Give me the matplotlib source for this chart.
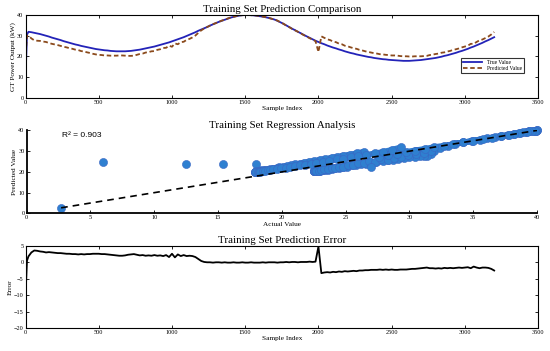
import numpy as np
import matplotlib
matplotlib.use("Agg")
import matplotlib.pyplot as plt

# --- datos ---
sample_idx = [0, 1, 2, 3, 4, 10] + list(range(20, 3201, 20))

true_vals = [
    2.7, 6.0, 12.5, 15.4, 18.0, 30.5,
    31.9, 31.7, 31.4, 31.1, 30.8, 30.4, 30.0, 29.6, 29.1, 28.7,
    28.3, 27.9, 27.4, 27.0, 26.6, 26.2, 25.8, 25.5, 25.1, 24.8,
    24.5, 24.2, 23.9, 23.6, 23.4, 23.2, 23.0, 22.9, 22.7, 22.6,
    22.5, 22.5, 22.5, 22.5, 22.6, 22.7, 22.9, 23.1, 23.3, 23.6,
    23.9, 24.2, 24.5, 24.8, 25.2, 25.6, 26.0, 26.4, 26.8, 27.3,
    27.8, 28.3, 28.8, 29.3, 29.9, 30.5, 31.1, 31.7, 32.4, 33.0,
    33.6, 34.2, 34.9, 35.5, 36.1, 36.7, 37.2, 37.7, 38.2, 38.7,
    39.1, 39.4, 39.7, 39.9, 40.0, 40.0, 39.9, 39.8, 39.6, 39.4,
    39.2, 38.9, 38.6, 38.2, 37.8, 37.2, 36.5, 35.8, 35.0, 34.2,
    33.4, 32.7, 31.9, 31.2, 30.4, 29.7, 29.0, 28.3, 27.6, 27.0,
    26.4, 25.9, 25.3, 24.8, 24.3, 23.9, 23.4, 23.0, 22.5, 22.1,
    21.7, 21.4, 21.0, 20.7, 20.4, 20.1, 19.8, 19.6, 19.3, 19.1,
    18.9, 18.7, 18.6, 18.4, 18.3, 18.2, 18.1, 18.0, 17.9, 17.9,
    17.9, 18.0, 18.1, 18.2, 18.3, 18.5, 18.7, 18.9, 19.1, 19.3,
    19.6, 19.9, 20.3, 20.6, 21.0, 21.4, 21.8, 22.3, 22.7, 23.2,
    23.7, 24.3, 24.8, 25.4, 26.0, 26.6, 27.3, 27.9, 28.6, 29.3,
]

err_vals = [
    0.0, -19.0, -11.5, -8.6, -6.0, 0.5,
    1.8, 3.0, 3.6, 3.5, 3.3, 3.2, 3.0, 3.1, 3.0, 2.9,
    2.8, 2.8, 2.7, 2.6, 2.6, 2.5, 2.5, 2.4, 2.5, 2.4,
    2.5, 2.5, 2.6, 2.6, 2.6, 2.5, 2.5, 2.4, 2.3, 2.2,
    2.1, 2.0, 2.0, 2.1, 2.3, 2.4, 2.5, 2.3, 2.1, 2.2,
    2.0, 2.1, 2.0, 2.2, 2.0, 2.1, 1.9, 2.2, 1.6, 2.6,
    1.5, 2.4, 1.9, 2.2, 1.9, 2.0, 1.9, 1.6, 1.0, 0.4,
    0.1, 0.0, 0.0, -0.1, 0.0, 0.0, -0.1, 0.0, -0.1, -0.1,
    0.0, -0.1, -0.1, 0.0, -0.1, -0.1, 0.0, -0.1, -0.1, -0.1,
    0.0, -0.1, 0.0, 0.0, 0.0, -0.1, 0.0, 0.0, 0.1, 0.0,
    0.1, 0.1, 0.0, 0.1, 0.1, 0.1, 0.2, 0.1, 0.2, 4.8,
    -3.3, -3.1, -3.0, -3.1, -2.9, -3.0, -2.8, -2.9, -2.7, -2.8,
    -2.7, -2.6, -2.7, -2.5, -2.5, -2.4, -2.4, -2.3, -2.3, -2.3,
    -2.2, -2.3, -2.2, -2.3, -2.2, -2.3, -2.3, -2.2, -2.2, -2.2,
    -2.1, -2.0, -2.0, -1.9, -1.8, -1.7, -1.6, -1.8, -1.8, -1.9,
    -1.8, -1.9, -1.7, -1.8, -1.7, -1.8, -1.7, -1.6, -1.7, -1.6,
    -1.5, -1.8, -1.3, -1.6, -1.8, -1.6, -1.6, -1.7, -2.0, -2.5,
]

r2_text = "R\u00b2 = 0.903"
x_ticks_idx = [0, 500, 1000, 1500, 2000, 2500, 3000, 3500]

idx = np.array(sample_idx)
y_true = np.array(true_vals)
y_err = np.array(err_vals)
y_pred = y_true - y_err

plt.rcParams['font.family'] = ['Liberation Serif', 'DejaVu Serif']
plt.rcParams['xtick.direction'] = 'in'
plt.rcParams['ytick.direction'] = 'in'

fig = plt.figure(figsize=(5.5, 3.51), dpi=100)

TICK_FS = 4.5
LABEL_FS = 5.2
TITLE_FS = 7.8
SCAT_COLOR = '#2f80d0'


def estilo(ax, box=True):
    ax.tick_params(labelsize=TICK_FS, length=2.5, width=0.6, pad=1.5,
                   top=box, right=box)
    for s in ax.spines.values():
        s.set_linewidth(0.8)


# --- 1. comparacion ---
ax1 = fig.add_axes([0.0464, 0.7208, 0.932, 0.2365])
ax1.plot(idx, y_true, color='#2323b8', lw=1.3, label='True Value')
ax1.plot(idx, y_pred, color='#8b4a1c', lw=1.3, ls=(0, (2.5, 1.5)), label='Predicted Value')
ax1.set_xlim(0, 3500)
ax1.set_ylim(0, 40)
ax1.set_xticks(x_ticks_idx)
ax1.set_yticks([0, 10, 20, 30, 40])
ax1.set_title('Training Set Prediction Comparison', fontsize=TITLE_FS, pad=2)
ax1.set_xlabel('Sample Index', fontsize=LABEL_FS, labelpad=1)
ax1.set_ylabel('GT Power Output (kW)', fontsize=LABEL_FS, labelpad=1)
estilo(ax1)
leg = ax1.legend(loc='lower right', bbox_to_anchor=(0.978, 0.265), fontsize=4,
                 frameon=True, fancybox=False, edgecolor='black',
                 handlelength=3.5, borderpad=0.4, labelspacing=0.2)
leg.get_frame().set_linewidth(0.8)

# --- 2. regresion ---
ax2 = fig.add_axes([0.0485, 0.392, 0.928, 0.2365])
# los puntos densos se ven como bandas: se unen tramo a tramo
corte = sample_idx.index(2000)
for a, b in [(5, corte), (corte + 1, len(sample_idx))]:
    ax2.plot(y_true[a:b], y_pred[a:b], color=SCAT_COLOR, lw=4.2,
             solid_capstyle='round', solid_joinstyle='round', zorder=2)
ax2.scatter(y_true, y_pred, s=34, color=SCAT_COLOR, edgecolors='#3a66c4',
            linewidths=0.4, zorder=2, clip_on=False)
xl = np.array([y_true.min(), y_true.max()])
ax2.plot(xl, xl, color='black', lw=1.2, ls=(0, (4, 3)), zorder=3)
ax2.text(0.07, 0.94, r2_text, transform=ax2.transAxes, fontsize=6,
         family='Liberation Sans', va='center')
ax2.set_xlim(0, 40)
ax2.set_ylim(0, 40)
ax2.set_xticks(range(0, 41, 5))
ax2.set_yticks([0, 10, 20, 30, 40])
ax2.spines['top'].set_visible(False)
ax2.spines['right'].set_visible(False)
ax2.set_title('Training Set Regression Analysis', fontsize=TITLE_FS, pad=2)
ax2.set_xlabel('Actual Value', fontsize=LABEL_FS, labelpad=1)
ax2.set_ylabel('Predicted Value', fontsize=LABEL_FS, labelpad=1)
estilo(ax2, box=False)
for s in ax2.spines.values():
    s.set_linewidth(1.3)

# --- 3. error ---
ax3 = fig.add_axes([0.0464, 0.0655, 0.932, 0.234])
ax3.plot(idx, y_err, color='black', lw=1.3)
ax3.set_xlim(0, 3500)
ax3.set_ylim(-20, 5)
ax3.set_xticks(x_ticks_idx)
ax3.set_yticks([-20, -15, -10, -5, 0, 5])
ax3.set_title('Training Set Prediction Error', fontsize=TITLE_FS, pad=2)
ax3.set_xlabel('Sample Index', fontsize=LABEL_FS, labelpad=1)
ax3.set_ylabel('Error', fontsize=LABEL_FS, labelpad=1)
estilo(ax3)

fig.savefig('out.png', dpi=100)
